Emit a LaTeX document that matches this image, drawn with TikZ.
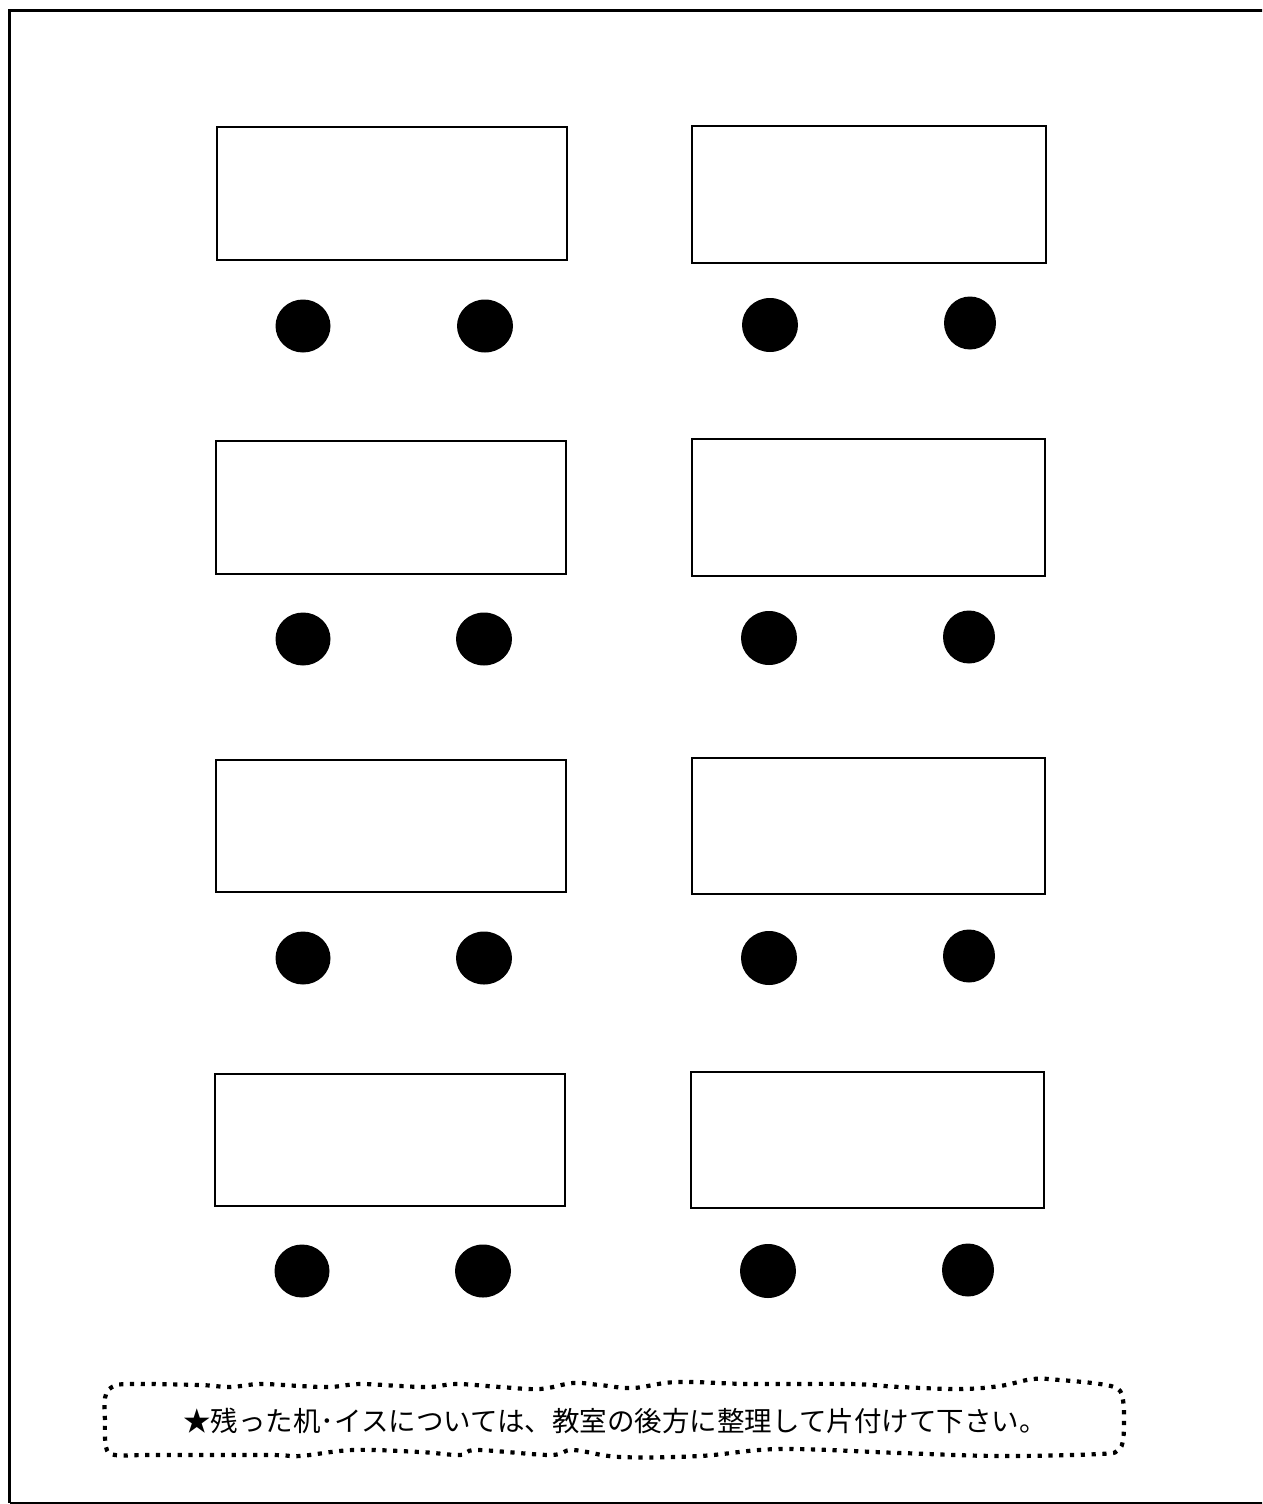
\documentclass[tikz,border=0pt]{standalone}
\usepackage{fontspec}
\newfontfamily\cjk{Noto Sans CJK JP}
\usetikzlibrary{shapes.geometric}
\tikzset{
  desk/.style={draw=black, line width=2pt, fill=white, rectangle, inner sep=0pt, outer sep=0pt},
  chair/.style={fill=black, ellipse, inner sep=0pt, outer sep=0pt, minimum width=55pt, minimum height=53pt},
  frameline/.style={draw=black, line width=3pt},
  wavy/.style={draw=black, line width=4.2pt, dash pattern=on 4.2pt off 6.6pt},
  note/.style={font=\cjk\fontsize{27.5}{32}\selectfont, inner sep=0pt}
}
\begin{document}
\begin{tikzpicture}[x=1pt, y=-1pt]
\useasboundingbox (0,0) rectangle (1262,1504);
\begin{scope}
\clip (0,0) rectangle (1262,1504);
\coordinate (ftl) at (9.5,10.5);
\coordinate (fbl) at (9.5,1502.5);
\coordinate (ftr) at (1290,10.5);
\coordinate (fbr) at (1290,1502.5);
\draw[frameline] (ftr) -- (ftl) -- (fbl);
\draw[draw=black, line width=2pt] (fbl) -- (fbr);
\end{scope}

% desks
\node[desk, minimum width=350pt, minimum height=133pt] (d1l) at (391.5,193.5) {};
\node[desk, minimum width=354pt, minimum height=137pt] (d1r) at (869,194) {};
\node[desk, minimum width=350pt, minimum height=133pt] (d2l) at (391,507.5) {};
\node[desk, minimum width=353pt, minimum height=137pt] (d2r) at (868.5,507.5) {};
\node[desk, minimum width=350pt, minimum height=132pt] (d3l) at (391,826) {};
\node[desk, minimum width=353pt, minimum height=136pt] (d3r) at (868.5,826) {};
\node[desk, minimum width=350pt, minimum height=132pt] (d4l) at (390,1140) {};
\node[desk, minimum width=353pt, minimum height=136pt] (d4r) at (867.5,1140) {};

% chairs
\node[chair] (c1a) at (303,326) {};
\node[chair, minimum width=56pt] (c1b) at (485,326) {};
\node[chair, minimum width=56pt, minimum height=54pt] (c1c) at (770,325) {};
\node[chair, minimum width=52pt] (c1d) at (970,323) {};
\node[chair] (c2a) at (303,639) {};
\node[chair, minimum width=56pt] (c2b) at (484,639) {};
\node[chair, minimum width=56pt, minimum height=54pt] (c2c) at (769,638) {};
\node[chair, minimum width=52pt] (c2d) at (969,637) {};
\node[chair] (c3a) at (303,958) {};
\node[chair, minimum width=56pt] (c3b) at (484,958) {};
\node[chair, minimum width=56pt, minimum height=54pt] (c3c) at (769,958) {};
\node[chair, minimum width=52pt] (c3d) at (969,956) {};
\node[chair] (c4a) at (302,1271) {};
\node[chair, minimum width=56pt] (c4b) at (483,1271) {};
\node[chair, minimum width=56pt, minimum height=54pt] (c4c) at (768,1271) {};
\node[chair, minimum width=52pt] (c4d) at (968,1270) {};

% wavy dotted note frame
\draw[wavy] plot[smooth, tension=0.6] coordinates {
  (105,1420) (105,1398) (112,1387) (130,1384) (200,1385) (230,1387) (260,1384)
  (300,1386) (330,1387) (360,1384) (400,1386) (430,1387) (457,1384) (500,1387)
  (540,1389) (573,1383) (600,1385) (633,1388) (677,1382) (750,1384) (850,1384)
  (900,1387) (960,1389) (1000,1386) (1033,1379) (1060,1380) (1100,1384) (1118,1389)
  (1123,1400) (1124,1420) (1123,1440) (1118,1450) (1100,1454) (1000,1456) (900,1453)
  (780,1449) (700,1456) (620,1457) (573,1450) (550,1455) (477,1450) (460,1455)
  (420,1452) (353,1450) (300,1456) (270,1455) (150,1455) (115,1455) (106,1447)
  (105,1420)
};

\node[note] (msg) at (615,1421) {★残った机･イスについては、教室の後方に整理して片付けて下さい。};
\end{tikzpicture}
\end{document}
